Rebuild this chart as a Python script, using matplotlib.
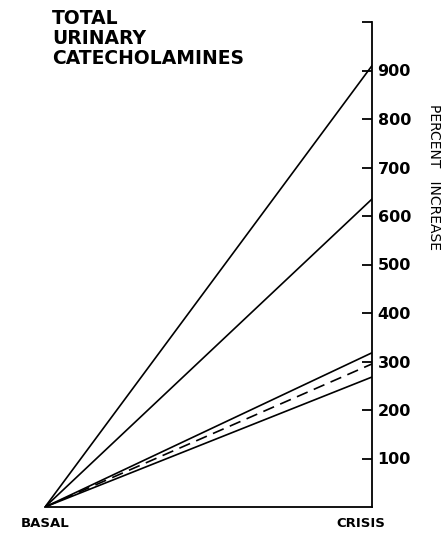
import numpy as np
import matplotlib.pyplot as plt

# data
phases = ['BASAL', 'CRISIS']
basal_values = [0, 0, 0, 0, 0]
crisis_values = [910, 635, 318, 295, 268]
line_styles = ['-', '-', '-', '--', '-']
y_ticks = [100, 200, 300, 400, 500, 600, 700, 800, 900, 1000]
y_tick_labels = ['100', '200', '300', '400', '500', '600', '700', '800', '900', '']

W, H = 447, 534
fig = plt.figure(figsize=(W / 100, H / 100), dpi=100)
ax = fig.add_axes([45 / W, (H - 507) / H, (372 - 45) / W, (507 - 22) / H])

x = np.arange(len(phases))
for b, c, ls in zip(basal_values, crisis_values, line_styles):
    if ls == '--':
        ax.plot(x, [b, c], color='black', lw=1.2, linestyle=(0, (7, 4)))
    else:
        ax.plot(x, [b, c], color='black', lw=1.2, linestyle=ls)

ax.set_xlim(0, 1)
ax.set_ylim(0, 1000)
ax.spines['left'].set_visible(False)
ax.spines['top'].set_visible(False)
ax.spines['right'].set_linewidth(1.3)
ax.spines['bottom'].set_linewidth(1.3)

ax.yaxis.tick_right()
ax.set_yticks(y_ticks)
ax.set_yticklabels(y_tick_labels, fontsize=11.5, fontweight='semibold')
ax.tick_params(axis='y', direction='in', length=7, width=1.3, pad=4)
ax.set_xticks([])

ax.text(1.19, 0.68, 'PERCENT   INCREASE', transform=ax.transAxes, rotation=-90,
        ha='center', va='center', fontsize=10)

ax.text(0.0, -0.033, phases[0], transform=ax.transAxes, ha='center', va='center',
        fontsize=9.5, fontweight='bold')
ax.text(0.966, -0.033, phases[1], transform=ax.transAxes, ha='center', va='center',
        fontsize=9.5, fontweight='bold')

fig.text(52 / W, 1 - 9 / H, 'TOTAL\nURINARY\nCATECHOLAMINES', ha='left', va='top',
         fontsize=13.5, fontweight='bold', linespacing=1.05)

fig.savefig('out.png', dpi=100)
